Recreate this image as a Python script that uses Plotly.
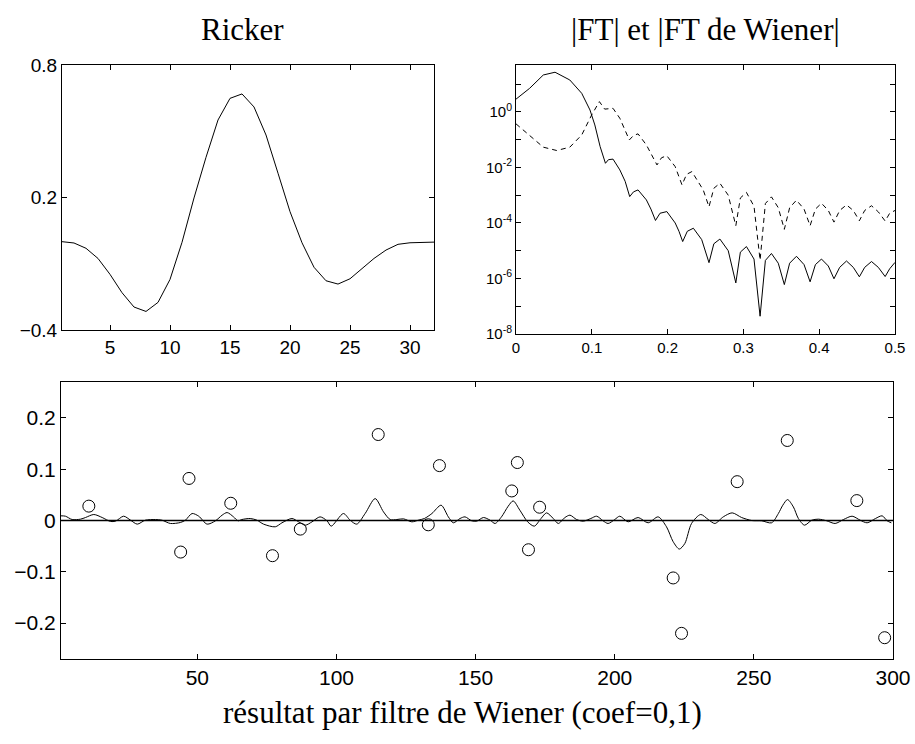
import plotly.graph_objects as go

# ---------------- data ----------------
ricker_n = list(range(1, 33))
ricker_amp = [0.0, -0.006, -0.03, -0.076, -0.148, -0.231, -0.296, -0.316,
              -0.275, -0.171, -0.003, 0.198, 0.382, 0.551, 0.649, 0.669,
              0.61, 0.483, 0.31, 0.136, -0.005, -0.116, -0.177, -0.192,
              -0.168, -0.121, -0.076, -0.038, -0.012, -0.005, -0.002, -0.002]

# |FT| of the Ricker wavelet (log10 of amplitude)
freq_ricker = [0, 0.018, 0.036, 0.0515, 0.071, 0.0867, 0.0976, 0.104, 0.111, 0.118,
               0.122, 0.128, 0.137, 0.144, 0.150, 0.155, 0.161, 0.172, 0.178, 0.184,
               0.19, 0.199, 0.21, 0.215, 0.2199, 0.226, 0.234, 0.245, 0.2546, 0.261,
               0.269, 0.28, 0.29, 0.296, 0.304, 0.314, 0.322, 0.329, 0.337, 0.346,
               0.354, 0.361, 0.370, 0.38, 0.388, 0.395, 0.403, 0.412, 0.4195, 0.427,
               0.436, 0.445, 0.453, 0.46, 0.469, 0.478, 0.487, 0.493, 0.5]
log10_ricker = [0.46, 0.85, 1.33, 1.43, 1.15, 0.67, 0.07, -0.47, -1.25, -1.85,
                -1.72, -1.70, -2.09, -2.5, -3.05, -2.88, -2.81, -3.17, -3.5, -3.91,
                -3.65, -3.59, -4.0, -4.3, -4.67, -4.3, -4.19, -4.6, -5.43, -4.75,
                -4.58, -5.0, -6.16, -5.05, -4.85, -5.3, -7.36, -5.35, -5.1, -5.45,
                -6.22, -5.45, -5.2, -5.5, -6.12, -5.5, -5.3, -5.55, -6.01, -5.6,
                -5.37, -5.6, -5.94, -5.6, -5.39, -5.6, -5.93, -5.65, -5.42]

# |FT| of the Wiener filter (log10 of amplitude)
freq_wiener = [0, 0.018, 0.036, 0.0537, 0.071, 0.0867, 0.0998, 0.11, 0.117, 0.128,
               0.137, 0.1495, 0.155, 0.161, 0.172, 0.186, 0.192, 0.199, 0.21, 0.219,
               0.225, 0.232, 0.247, 0.2546, 0.261, 0.269, 0.28, 0.29, 0.296, 0.304,
               0.314, 0.322, 0.329, 0.337, 0.346, 0.354, 0.361, 0.370, 0.38, 0.388,
               0.395, 0.403, 0.412, 0.4195, 0.427, 0.436, 0.445, 0.453, 0.46, 0.469,
               0.478, 0.487, 0.493, 0.5]
log10_wiener = [-0.43, -0.86, -1.27, -1.39, -1.27, -0.83, -0.11, 0.37, 0.1, 0.13,
                -0.23, -1.01, -0.85, -0.79, -1.19, -1.91, -1.65, -1.58, -1.97, -2.63,
                -2.25, -2.15, -2.81, -3.42, -2.75, -2.57, -3.0, -4.1, -3.1, -2.9,
                -3.4, -5.34, -3.3, -3.06, -3.45, -4.23, -3.45, -3.18, -3.5, -4.1,
                -3.5, -3.29, -3.55, -3.97, -3.55, -3.35, -3.55, -3.92, -3.55, -3.38,
                -3.6, -3.93, -3.65, -3.55]

# Wiener-filter result (continuous curve)
result_x = [1.0, 2.6, 5.0, 8.0, 9.8, 12.8, 15.8, 18.8, 20.6, 23.5, 26.0, 28.4, 31.3,
            34.9, 37.3, 40.3, 43.9, 45.7, 48.1, 50.5, 53.5, 56.5, 58.9, 60.7, 63.0,
            64.6, 66.0, 69.0, 71.4, 73.8, 78.0, 80.4, 84.0, 86.4, 88.8, 91.2, 94.1,
            96.6, 98.1, 102.5, 104.9, 107.3, 110.3, 113.9, 116.9, 119.3, 121.7,
            124.1, 127.1, 129.4, 131.6, 134.3, 137.6, 140.2, 142.0, 144.4, 146.2,
            148.6, 150.4, 152.8, 155.2, 157.0, 159.3, 161.7, 163.5, 165.9, 168.7,
            171.1, 173.5, 175.5, 177.9, 179.7, 182.1, 183.9, 186.3, 188.7, 191.4,
            193.5, 195.8, 197.6, 200.0, 201.8, 204.8, 208.4, 212.0, 215.6, 218.6,
            221.0, 223.2, 225.2, 227.6, 230.9, 233.6, 236.0, 239.0, 242.2, 245.6,
            249.2, 252.8, 256.4, 258.8, 260.4, 262.1, 264.2, 266.0, 268.2, 270.8,
            273.2, 276.2, 279.2, 282.2, 285.3, 288.2, 290.7, 293.7, 296.1, 297.9,
            299.4]
result_y = [0.0091, 0.0084, 0.0019, 0.0026, 0.0058, 0.0117, 0.0058, -0.0019, -0.0013,
            0.0084, 0.0006, -0.0071, 0.0006, 0.0019, 0.0006, -0.0058, -0.0039, 0.0006,
            0.0136, 0.0084, -0.0071, -0.0006, 0.0104, 0.0155, 0.0071, -0.0006, 0.0019,
            0.0039, 0.0006, -0.0071, -0.0123, -0.0045, 0.0039, -0.0026, -0.0091,
            -0.0026, 0.0071, -0.0006, -0.0110, 0.0136, 0.0006, -0.0071, 0.0136,
            0.0427, 0.0168, 0.0019, 0.0019, 0.0032, -0.0026, 0.0006, 0.0039, 0.0136,
            0.0298, 0.0071, -0.0045, 0.0039, 0.0071, -0.0006, -0.0013, 0.0058, 0.0006,
            -0.0058, 0.0071, 0.0278, 0.0382, 0.0201, -0.0026, -0.0110, 0.0039, 0.0149,
            0.0039, -0.0058, 0.0058, 0.0104, 0.0019, -0.0013, 0.0039, 0.0084, -0.0006,
            -0.0058, 0.0019, 0.0084, -0.0026, 0.0058, -0.0045, 0.0071, -0.0123,
            -0.0414, -0.0557, -0.0447, -0.0058, 0.0117, 0.0019, -0.0058, 0.0071,
            0.0149, 0.0058, 0.0, -0.0006, -0.0045, 0.0136, 0.0298, 0.0408, 0.0265,
            0.0039, -0.0091, 0.0006, 0.0026, -0.0006, -0.0058, 0.0019, 0.0084, 0.0006,
            -0.0045, 0.0039, 0.0091, -0.0006, -0.0045]

# reflectivity spikes (circles)
spike_x = [11, 44, 47, 62, 77, 87, 115, 133, 137, 163, 165, 169, 173,
           221, 224, 244, 262, 287, 297]
spike_y = [0.028, -0.0615, 0.082, 0.0336, -0.0686, -0.0168, 0.1676, -0.0084, 0.107,
           0.0576, 0.113, -0.057, 0.0259, -0.112, -0.22, 0.0757, 0.156, 0.0388, -0.2285]

ricker_xticks = [5, 10, 15, 20, 25, 30]
ricker_yticks = [-0.4, 0.2, 0.8]
spec_xticks = [0, 0.1, 0.2, 0.3, 0.4, 0.5]
spec_major_exponents = [-8, -6, -4, -2, 0]
spec_minor_exponents = [-7, -5, -3, -1, 1]
result_xticks = [50, 100, 150, 200, 250, 300]
result_yticks = [-0.2, -0.1, 0, 0.1, 0.2]

# ---------------- figure ----------------
W, H = 915, 744
SANS = "Liberation Sans, Arial, Helvetica, sans-serif"
SERIF = "Liberation Serif, Times New Roman, serif"


def px_x(a, b):
    return [a / W, b / W]


def px_y(top, bottom):
    return [1 - bottom / H, 1 - top / H]


def axis(size, **kw):
    d = dict(showline=True, linecolor="black", linewidth=1, mirror="ticks",
             ticks="inside", ticklen=5, tickcolor="black", tickwidth=1,
             showgrid=False, zeroline=False, automargin=False,
             tickfont=dict(family=SANS, size=size, color="black"))
    d.update(kw)
    return d


fig = go.Figure()
line_style = dict(color="black", width=1)

fig.add_trace(go.Scatter(x=ricker_n, y=ricker_amp, mode="lines", line=line_style,
                         xaxis="x", yaxis="y", showlegend=False))
fig.add_trace(go.Scatter(x=freq_ricker, y=[10 ** v for v in log10_ricker], mode="lines",
                         line=line_style, xaxis="x2", yaxis="y2", showlegend=False))
fig.add_trace(go.Scatter(x=freq_wiener, y=[10 ** v for v in log10_wiener], mode="lines",
                         line=dict(color="black", width=1, dash="5px,4px"),
                         xaxis="x2", yaxis="y2", showlegend=False))
fig.add_trace(go.Scatter(x=result_x, y=result_y, mode="lines",
                         line=dict(color="black", width=1, shape="spline", smoothing=0.8),
                         xaxis="x3", yaxis="y3", showlegend=False))
fig.add_trace(go.Scatter(x=spike_x, y=spike_y, mode="markers",
                         marker=dict(symbol="circle-open", size=12, color="black",
                                     line=dict(width=1, color="black")),
                         xaxis="x3", yaxis="y3", showlegend=False))

fig.add_shape(type="line", xref="x3 domain", x0=0, x1=1, yref="y3", y0=0, y1=0,
              line=dict(color="black", width=1.3))

spec_tickvals = [10.0 ** e for e in spec_major_exponents]
spec_ticktext = ["10<sup>%d</sup>" % e for e in spec_major_exponents]
spec_minorvals = [10.0 ** e for e in spec_minor_exponents]

fig.update_layout(
    template="none",
    width=W, height=H,
    margin=dict(l=0, r=0, t=0, b=0, autoexpand=False),
    paper_bgcolor="white", plot_bgcolor="white",
    xaxis=axis(19, domain=px_x(62, 434), range=[1, 32], tickvals=ricker_xticks,
               anchor="y"),
    yaxis=axis(19, domain=px_y(65, 330), range=[-0.4, 0.8], tickvals=ricker_yticks,
               anchor="x"),
    xaxis2=axis(15, domain=px_x(516, 895), range=[0, 0.5], tickvals=spec_xticks,
                anchor="y2"),
    yaxis2=axis(15, domain=px_y(65, 334), type="log", range=[-8, 1.69],
                tickvals=spec_tickvals, ticktext=spec_ticktext, anchor="x2",
                minor=dict(tickmode="array", tickvals=spec_minorvals, ticks="inside",
                           ticklen=5, tickcolor="black", tickwidth=1, showgrid=False)),
    xaxis3=axis(21, domain=px_x(61, 893), range=[1, 300], tickvals=result_xticks,
                anchor="y3"),
    yaxis3=axis(21, domain=px_y(382, 659), range=[-0.27, 0.27], tickvals=result_yticks,
                anchor="x3"),
    annotations=[
        dict(text="Ricker", x=243 / W, y=1 - 30 / H, xref="paper", yref="paper",
             showarrow=False, xanchor="center", yanchor="middle",
             font=dict(family=SERIF, size=31, color="black")),
        dict(text="|FT| et |FT de Wiener|", x=705 / W, y=1 - 30 / H, xref="paper",
             yref="paper", showarrow=False, xanchor="center", yanchor="middle",
             font=dict(family=SERIF, size=31, color="black")),
        dict(text="résultat par filtre de Wiener (coef=0,1)", x=463 / W, y=1 - 712 / H,
             xref="paper", yref="paper", showarrow=False, xanchor="center",
             yanchor="middle", font=dict(family=SERIF, size=31, color="black")),
    ],
)

fig.write_html(
    "out.html",
    config={"displayModeBar": False, "staticPlot": True},
    post_script="document.body.style.margin='0px';document.body.style.padding='0px';",
)
